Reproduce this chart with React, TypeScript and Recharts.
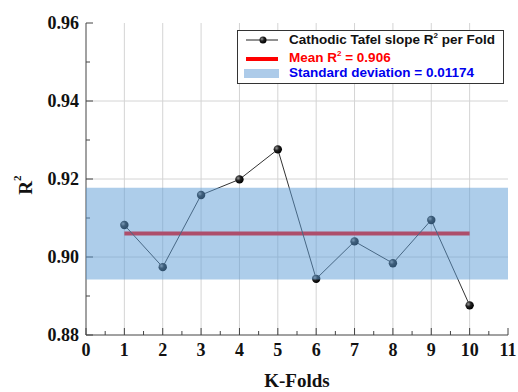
import React from 'react';
import {
  LineChart,
  Line,
  XAxis,
  YAxis,
  CartesianGrid,
  ReferenceArea,
} from 'recharts';

// values
const folds = [1, 2, 3, 4, 5, 6, 7, 8, 9, 10];
const r2Values = [0.9082, 0.8974, 0.9159, 0.9199, 0.9276, 0.8944, 0.904, 0.8984, 0.9095, 0.8876];
const meanValues = [0.906, 0.906, 0.906, 0.906, 0.906, 0.906, 0.906, 0.906, 0.906, 0.906];
const meanR2 = 0.906;
const stdDev = 0.01174;

const xTicks = [0, 0.5, 1, 1.5, 2, 2.5, 3, 3.5, 4, 4.5, 5, 5.5, 6, 6.5, 7, 7.5, 8, 8.5, 9, 9.5, 10, 10.5, 11];
const xGrid = [1, 2, 3, 4, 5, 6, 7, 8, 9, 10];
const yTicks = [0.88, 0.89, 0.9, 0.91, 0.92, 0.93, 0.94, 0.95, 0.96];
const yGrid = [0.9, 0.92, 0.94];

const data = folds.map((k, i) => ({ fold: k, r2: r2Values[i], mean: meanValues[i] }));

const serif = "'Liberation Serif', 'Times New Roman', serif";
const sans = "'Liberation Sans', Arial, sans-serif";

const XTick = (props: any) => {
  const { x, y, payload } = props;
  const v = payload.value;
  const major = Number.isInteger(v);
  return (
    <g>
      <line x1={x} x2={x} y1={y} y2={y - (major ? 7 : 4)} stroke="#444" strokeWidth={1} />
      {major && (
        <text x={x} y={y + 21} textAnchor="middle" fontFamily={serif} fontWeight="bold" fontSize={18} fill="#111">
          {v}
        </text>
      )}
    </g>
  );
};

const YTick = (props: any) => {
  const { x, y, payload } = props;
  const v = payload.value;
  const major = Math.round(v * 100) % 2 === 0;
  return (
    <g>
      <line x1={x} x2={x + (major ? 7 : 4)} y1={y} y2={y} stroke="#444" strokeWidth={1} />
      {major && (
        <text x={x - 7} y={y + 6} textAnchor="end" fontFamily={serif} fontWeight="bold" fontSize={18} fill="#111">
          {v.toFixed(2)}
        </text>
      )}
    </g>
  );
};

const Ball = (props: any) => {
  const { cx, cy, index } = props;
  if (cx == null || cy == null) return null;
  return <circle key={index} cx={cx} cy={cy} r={4.2} fill="url(#ballGrad)" />;
};

const Legend = () => (
  <div
    style={{
      position: 'absolute',
      left: 237,
      top: 30,
      width: 265,
      height: 52,
      border: '1px solid #333',
      background: '#fff',
      fontFamily: sans,
      fontWeight: 'bold',
      fontSize: 13.5,
    }}
  >
    <svg width={45} height={52} style={{ position: 'absolute', left: 0, top: 0 }}>
      <line x1={8} x2={40} y1={9} y2={9} stroke="#222" strokeWidth={1} />
      <circle cx={25} cy={9} r={3.5} fill="url(#ballGradL)" />
      <defs>
        <radialGradient id="ballGradL" cx="35%" cy="35%" r="65%">
          <stop offset="0%" stopColor="#9a9a9a" />
          <stop offset="45%" stopColor="#222" />
          <stop offset="100%" stopColor="#000" />
        </radialGradient>
      </defs>
      <line x1={8} x2={40} y1={28} y2={28} stroke="#ff0000" strokeWidth={4} />
      <rect x={6} y={38} width={35} height={9} fill="#adcbe9" />
    </svg>
    <div style={{ position: 'absolute', left: 51, top: 0, color: '#111', whiteSpace: 'nowrap' }}>
      Cathodic Tafel slope R<sup style={{ fontSize: 8 }}>2</sup> per Fold
    </div>
    <div style={{ position: 'absolute', left: 51, top: 18, color: '#ff0000', whiteSpace: 'nowrap' }}>
      Mean R<sup style={{ fontSize: 8 }}>2</sup> = {meanR2}
    </div>
    <div style={{ position: 'absolute', left: 51, top: 34, color: '#0000ee', whiteSpace: 'nowrap' }}>
      Standard deviation = {stdDev}
    </div>
  </div>
);

export default function App() {
  return (
    <div style={{ position: 'absolute', left: 0, top: 0, width: 518, height: 392, background: '#fff' }}>
      <LineChart width={518} height={392} data={data} margin={{ top: 23, right: 10, bottom: 0, left: 0 }}>
        <defs>
          <radialGradient id="ballGrad" cx="35%" cy="35%" r="65%">
            <stop offset="0%" stopColor="#9a9a9a" />
            <stop offset="45%" stopColor="#222" />
            <stop offset="100%" stopColor="#000" />
          </radialGradient>
        </defs>
        <CartesianGrid
          stroke="#d4d4d4"
          strokeWidth={1}
          horizontalValues={yGrid}
          verticalValues={xGrid}
        />
        <XAxis
          dataKey="fold"
          type="number"
          domain={[0, 11]}
          ticks={xTicks}
          interval={0}
          height={57}
          tickSize={0}
          tickMargin={0}
          tickLine={false}
          tick={<XTick />}
          axisLine={{ stroke: '#444', strokeWidth: 1 }}
          label={{ value: 'K-Folds', position: 'insideBottom', offset: 5, fontFamily: serif, fontWeight: 'bold', fontSize: 19, fill: '#111' }}
        />
        <XAxis xAxisId="top" orientation="top" type="number" domain={[0, 11]} height={0} tick={false} tickLine={false} axisLine={{ stroke: '#444', strokeWidth: 1 }} />
        <YAxis
          type="number"
          domain={[0.88, 0.96]}
          ticks={yTicks}
          interval={0}
          width={86}
          tickSize={0}
          tickMargin={0}
          tickLine={false}
          tick={<YTick />}
          axisLine={{ stroke: '#444', strokeWidth: 1 }}
          allowDataOverflow
        />
        <YAxis yAxisId="right" orientation="right" type="number" domain={[0.88, 0.96]} width={0} tick={false} tickLine={false} axisLine={{ stroke: '#444', strokeWidth: 1 }} />
        <Line dataKey="mean" stroke="#ff0000" strokeWidth={4} dot={false} activeDot={false} isAnimationActive={false} />
        <Line dataKey="r2" stroke="#333" strokeWidth={1} dot={<Ball />} activeDot={false} isAnimationActive={false} />
        <ReferenceArea
          x1={0}
          x2={11}
          y1={meanR2 - stdDev}
          y2={meanR2 + stdDev}
          fill="#5b9bd5"
          fillOpacity={0.5}
          stroke="none"
          zIndex={2000}
        />
        <text
          x={25}
          y={185}
          transform="rotate(-90 25 185)"
          textAnchor="middle"
          dominantBaseline="central"
          fontFamily={serif}
          fontWeight="bold"
          fontSize={19}
          fill="#111"
        >
          R<tspan fontSize={11} dy={-8}>2</tspan>
        </text>
      </LineChart>
      <Legend />
    </div>
  );
}
